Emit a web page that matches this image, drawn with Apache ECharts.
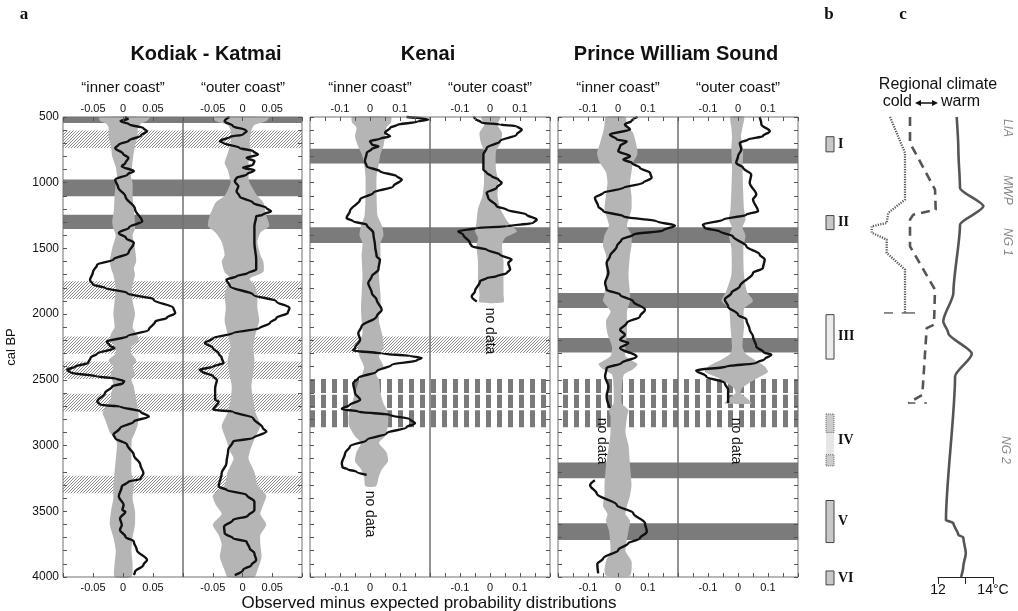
<!DOCTYPE html>
<html>
<head>
<meta charset="utf-8">
<script src="https://cdn.jsdelivr.net/npm/echarts@6/dist/echarts.min.js"></script>
<style>
  html, body { margin: 0; padding: 0; background: #fff; }
  #chart { width: 1018px; height: 611px; }
</style>
</head>
<body>
<div id="chart"></div>
<script>
// ---- time axis (cal BP) ----
const YEAR_MIN = 500;
const YEAR_MAX = 4000;

// ---- horizontal event bands [from, to] in cal BP ----
const kodiakDark  = [[500, 545], [976, 1103], [1243, 1352]];
const kodiakHatch = [[603, 735], [1750, 1885], [2170, 2302], [2360, 2494], [2606, 2741], [3230, 3362]];
const kenaiDark   = [[742, 854], [1339, 1458]];
const kenaiHatch  = [[2170, 2296]];
const dashedRows  = [[2494, 2600], [2613, 2715], [2732, 2860]];
const pwsDark     = [[742, 854], [1339, 1458], [1839, 1953], [2182, 2292], [3129, 3248], [3591, 3718]];

// ---- observed minus expected curves [cal BP, value] ----
const kodiakInnerLine = [[500,0.003],[515,0.008],[530,-0.004],[555,0.01],[585,0.034],[608,0.04],[640,0.03],[680,0.01],[709,-0.007],[735,-0.013],[780,0.0],[811,0.009],[850,0.004],[875,-0.002],[913,0.018],[935,0.008],[976,-0.013],[1037,-0.008],[1103,0.004],[1200,0.02],[1294,0.032],[1340,0.01],[1382,-0.007],[1420,0.005],[1458,0.018],[1534,0.009],[1585,-0.016],[1623,-0.043],[1680,-0.05],[1740,-0.055],[1775,-0.05],[1800,-0.03],[1839,0.007],[1890,0.051],[1953,0.084],[1991,0.087],[2029,0.073],[2055,0.054],[2119,0.043],[2170,0.007],[2208,-0.027],[2240,-0.022],[2258,-0.014],[2300,-0.043],[2332,-0.054],[2370,-0.058],[2400,-0.08],[2423,-0.093],[2444,-0.088],[2474,-0.043],[2490,-0.012],[2510,0.002],[2525,0.0],[2550,-0.018],[2600,-0.03],[2665,-0.043],[2690,-0.038],[2703,-0.005],[2741,0.029],[2779,0.043],[2817,0.018],[2867,-0.005],[2918,-0.016],[2943,-0.013],[2994,0.007],[3071,0.018],[3147,0.029],[3210,0.034],[3255,0.029],[3274,0.009],[3312,-0.002],[3388,-0.007],[3452,0.001],[3490,-0.001],[3503,0.004],[3553,-0.005],[3604,-0.002],[3642,-0.005],[3693,0.004],[3731,0.018],[3794,0.023],[3870,0.04],[3908,0.034],[3960,0.02],[3985,0.018]];
const kodiakOuterLine = [[500,-0.022],[532,-0.03],[570,-0.016],[600,0.005],[608,0.007],[633,0.001],[651,-0.021],[684,-0.038],[697,-0.032],[735,-0.005],[760,0.018],[786,0.026],[811,0.007],[836,0.02],[862,0.018],[887,0.001],[905,0.02],[938,0.007],[963,-0.01],[989,-0.013],[1027,-0.007],[1065,-0.01],[1103,-0.005],[1154,0.018],[1192,0.04],[1217,0.048],[1243,0.034],[1256,0.023],[1332,0.02],[1458,0.02],[1585,0.023],[1661,0.023],[1687,0.009],[1712,-0.01],[1738,-0.027],[1788,-0.021],[1852,0.018],[1903,0.057],[1953,0.079],[1991,0.076],[2029,0.057],[2068,0.046],[2106,0.029],[2144,-0.016],[2182,-0.049],[2220,-0.063],[2256,-0.05],[2300,-0.04],[2332,-0.035],[2372,-0.032],[2400,-0.05],[2423,-0.072],[2436,-0.068],[2474,-0.049],[2500,-0.043],[2563,-0.046],[2652,-0.046],[2665,-0.04],[2728,-0.049],[2741,-0.016],[2791,0.018],[2867,0.034],[2893,0.04],[2943,0.018],[2969,-0.016],[3033,-0.024],[3134,-0.027],[3210,-0.035],[3312,-0.04],[3337,-0.027],[3376,0.007],[3427,0.02],[3490,0.02],[3535,0.009],[3566,-0.016],[3617,-0.031],[3668,-0.03],[3706,-0.016],[3731,0.007],[3782,0.012],[3820,0.02],[3870,0.023],[3908,0.015],[3947,0.001],[3985,-0.013]];
const kenaiInnerLine = [[500,0.122],[519,0.194],[535,0.16],[560,0.09],[582,0.067],[620,0.05],[646,0.067],[666,0.033],[684,0.0],[709,0.006],[722,0.028],[745,0.005],[773,-0.011],[836,-0.017],[875,-0.011],[913,0.033],[951,0.089],[976,0.106],[1027,0.078],[1077,0.011],[1128,-0.033],[1217,-0.067],[1268,-0.078],[1294,-0.056],[1319,-0.011],[1382,0.011],[1484,0.017],[1560,0.022],[1585,0.033],[1661,0.028],[1712,0.006],[1763,-0.006],[1839,0.006],[1890,0.022],[1966,0.039],[2017,0.022],[2093,-0.028],[2144,-0.039],[2195,-0.033],[2258,-0.05],[2276,-0.056],[2300,0.04],[2317,0.133],[2334,0.172],[2352,0.156],[2385,0.072],[2436,0.022],[2486,-0.039],[2525,-0.056],[2600,-0.05],[2652,-0.033],[2690,-0.067],[2721,-0.094],[2741,-0.039],[2767,0.067],[2800,0.133],[2830,0.15],[2861,0.122],[2906,0.056],[2957,-0.011],[3007,-0.067],[3058,-0.083],[3134,-0.094],[3165,-0.092],[3180,-0.075],[3200,-0.045],[3223,-0.011]];
const kenaiOuterLine = [[500,-0.056],[510,-0.05],[544,-0.028],[557,0.033],[570,0.089],[595,0.106],[633,0.089],[684,0.033],[735,-0.011],[786,-0.022],[900,-0.022],[925,-0.011],[951,0.006],[976,0.028],[1001,0.039],[1039,0.022],[1077,-0.011],[1115,-0.006],[1179,0.022],[1205,0.056],[1243,0.122],[1281,0.156],[1306,0.144],[1332,0.056],[1344,-0.044],[1370,-0.106],[1395,-0.089],[1458,-0.067],[1484,-0.061],[1509,-0.011],[1547,0.033],[1585,0.072],[1610,0.061],[1661,0.067],[1687,0.056],[1712,0.022],[1725,-0.011],[1750,-0.033],[1826,-0.05],[1865,-0.061],[1903,-0.044]];
const pwsInnerLineA = [[500,0.065],[530,0.045],[557,0.023],[595,0.04],[633,-0.027],[671,-0.004],[684,0.029],[722,0.007],[760,0.001],[798,0.04],[824,0.018],[849,0.046],[887,0.073],[925,0.107],[963,0.112],[1001,0.084],[1039,0.018],[1077,-0.049],[1115,-0.077],[1179,-0.066],[1217,-0.049],[1256,0.018],[1294,0.129],[1326,0.19],[1362,0.151],[1395,0.051],[1433,0.012],[1484,-0.004],[1560,-0.027],[1610,-0.038],[1687,-0.032],[1763,-0.043],[1814,-0.038],[1852,0.007],[1903,0.051],[1966,0.09],[2017,0.073],[2068,0.029],[2119,0.007],[2157,0.023],[2195,0.007],[2220,0.034],[2258,0.007],[2322,0.062],[2372,0.012],[2410,-0.038],[2474,-0.043],[2550,-0.032],[2626,-0.038],[2715,-0.027]];
const pwsInnerLineB = [[3263,-0.077],[3301,-0.093],[3365,-0.071],[3452,-0.004],[3515,0.051],[3591,0.09],[3655,0.096],[3706,0.073],[3744,0.034],[3794,0.001],[3858,-0.049],[3901,-0.069],[3972,-0.066]];
const pwsOuterLine = [[500,0.072],[557,0.078],[608,0.106],[646,0.083],[671,0.033],[697,0.006],[748,0.011],[798,0.0],[849,-0.006],[887,0.017],[938,0.044],[1001,0.039],[1090,0.061],[1128,0.05],[1217,0.067],[1243,0.028],[1281,-0.05],[1319,-0.117],[1344,-0.111],[1370,-0.061],[1408,-0.017],[1484,0.028],[1547,0.072],[1585,0.089],[1649,0.083],[1687,0.05],[1788,0.006],[1839,-0.022],[1890,-0.044],[1941,-0.033],[2004,0.0],[2042,0.028],[2119,0.039],[2170,0.05],[2246,0.061],[2290,0.085],[2309,0.111],[2340,0.09],[2372,0.061],[2398,-0.039],[2429,-0.139],[2474,-0.106],[2525,-0.044],[2576,-0.033],[2677,-0.033]];

// ---- expected-range envelopes [cal BP, low, high] ----
const kodiakInnerEnv = [[500,-0.04,0.045],[530,-0.038,0.04],[550,-0.028,0.03],[580,-0.024,0.025],[650,-0.024,0.024],[720,-0.02,0.02],[800,-0.018,0.017],[880,-0.012,0.015],[950,-0.01,0.013],[1000,-0.012,0.016],[1100,-0.014,0.016],[1200,-0.015,0.018],[1300,-0.018,0.02],[1350,-0.016,0.02],[1400,-0.012,0.016],[1500,-0.018,0.02],[1600,-0.022,0.022],[1650,-0.02,0.018],[1700,-0.016,0.02],[1800,-0.012,0.015],[1900,-0.014,0.016],[2000,-0.016,0.02],[2100,-0.014,0.016],[2150,-0.02,0.022],[2200,-0.022,0.026],[2250,-0.012,0.014],[2300,-0.012,0.014],[2350,-0.024,0.022],[2400,-0.016,0.016],[2450,-0.02,0.02],[2500,-0.018,0.014],[2550,-0.016,0.018],[2600,-0.02,0.02],[2650,-0.02,0.022],[2700,-0.028,0.024],[2750,-0.034,0.026],[2800,-0.03,0.026],[2850,-0.026,0.024],[2900,-0.022,0.02],[2950,-0.012,0.015],[3000,-0.01,0.014],[3100,-0.012,0.014],[3200,-0.014,0.014],[3300,-0.016,0.018],[3400,-0.016,0.016],[3500,-0.02,0.02],[3600,-0.022,0.02],[3700,-0.016,0.016],[3800,-0.012,0.014],[3900,-0.014,0.016],[4000,-0.014,0.014]];
const kodiakOuterEnv = [[500,-0.05,0.045],[530,-0.045,0.04],[560,-0.025,0.02],[600,-0.02,0.015],[700,-0.02,0.012],[780,-0.025,0.015],[850,-0.03,0.01],[900,-0.025,0.012],[950,-0.022,0.01],[1000,-0.02,0.012],[1100,-0.03,0.025],[1150,-0.045,0.035],[1250,-0.055,0.04],[1330,-0.058,0.045],[1380,-0.045,0.03],[1450,-0.035,0.025],[1550,-0.03,0.03],[1600,-0.035,0.035],[1680,-0.03,0.035],[1730,-0.02,0.012],[1780,-0.025,0.02],[1850,-0.03,0.025],[1950,-0.028,0.025],[2050,-0.03,0.028],[2150,-0.025,0.022],[2250,-0.02,0.018],[2350,-0.025,0.02],[2450,-0.022,0.018],[2550,-0.018,0.015],[2650,-0.02,0.018],[2750,-0.025,0.022],[2850,-0.035,0.03],[2950,-0.028,0.02],[3050,-0.02,0.012],[3100,-0.015,0.01],[3200,-0.025,0.02],[3300,-0.03,0.025],[3380,-0.05,0.04],[3450,-0.045,0.035],[3520,-0.035,0.03],[3600,-0.05,0.04],[3680,-0.04,0.03],[3750,-0.035,0.03],[3850,-0.038,0.032],[3950,-0.03,0.025],[4000,-0.025,0.02]];
const kenaiInnerEnv = [[500,-0.06,0.07],[540,-0.06,0.07],[580,-0.045,0.055],[650,-0.05,0.05],[720,-0.04,0.045],[780,-0.028,0.035],[850,-0.02,0.03],[950,-0.015,0.022],[1100,-0.015,0.022],[1250,-0.018,0.025],[1330,-0.03,0.04],[1400,-0.035,0.045],[1460,-0.025,0.035],[1550,-0.028,0.035],[1700,-0.025,0.03],[1850,-0.028,0.035],[1950,-0.03,0.035],[2050,-0.028,0.03],[2150,-0.025,0.04],[2250,-0.04,0.045],[2320,-0.035,0.03],[2400,-0.02,0.045],[2450,-0.025,0.02],[2500,-0.035,0.03],[2600,-0.05,0.035],[2680,-0.06,0.045],[2750,-0.07,0.06],[2850,-0.07,0.06],[2930,-0.05,0.05],[2980,-0.03,0.03],[3050,-0.045,0.055],[3120,-0.05,0.06],[3180,-0.03,0.04],[3230,-0.02,0.03],[3310,-0.015,0.02]];
const kenaiOuterEnv = [[500,-0.03,0.035],[560,-0.02,0.025],[620,-0.035,0.04],[700,-0.03,0.035],[760,-0.02,0.02],[900,-0.02,0.02],[1000,-0.02,0.028],[1100,-0.025,0.025],[1200,-0.04,0.035],[1300,-0.045,0.06],[1370,-0.05,0.09],[1420,-0.04,0.05],[1480,-0.045,0.04],[1600,-0.04,0.045],[1750,-0.04,0.045],[1850,-0.035,0.045],[1910,-0.035,0.045]];
const pwsInnerEnv = [[500,-0.04,0.025],[560,-0.045,0.03],[620,-0.05,0.05],[700,-0.06,0.06],[780,-0.07,0.065],[850,-0.06,0.05],[920,-0.04,0.045],[1000,-0.035,0.04],[1100,-0.04,0.045],[1200,-0.045,0.045],[1280,-0.035,0.035],[1330,-0.03,0.03],[1400,-0.045,0.045],[1480,-0.05,0.045],[1550,-0.04,0.04],[1700,-0.04,0.035],[1850,-0.045,0.04],[1900,-0.05,0.04],[1980,-0.025,0.03],[2050,-0.04,0.03],[2150,-0.035,0.03],[2250,-0.02,0.025],[2320,-0.025,0.025],[2380,-0.065,0.065],[2420,-0.05,0.05],[2460,-0.02,0.02],[2550,-0.015,0.013],[2680,-0.015,0.013],[2730,-0.03,0.035],[2780,-0.025,0.03],[2900,-0.025,0.025],[3000,-0.03,0.035],[3150,-0.04,0.04],[3300,-0.045,0.045],[3380,-0.045,0.04],[3460,-0.05,0.03],[3520,-0.035,0.025],[3570,-0.04,0.04],[3650,-0.03,0.035],[3800,-0.025,0.025],[3880,-0.04,0.045],[3950,-0.045,0.045],[3990,-0.04,0.04]];
const pwsOuterEnv = [[500,-0.025,0.02],[580,-0.022,0.015],[650,-0.02,0.01],[750,-0.022,0.017],[900,-0.02,0.015],[1050,-0.022,0.017],[1200,-0.025,0.02],[1280,-0.03,0.025],[1340,-0.02,0.015],[1400,-0.03,0.025],[1500,-0.022,0.018],[1700,-0.022,0.02],[1830,-0.04,0.03],[1900,-0.055,0.05],[1960,-0.03,0.02],[2100,-0.025,0.02],[2250,-0.02,0.015],[2300,-0.025,0.025],[2340,-0.05,0.05],[2400,-0.1,0.09],[2440,-0.11,0.1],[2480,-0.07,0.07],[2520,-0.04,0.04],[2560,-0.015,0.015],[2600,-0.008,0.008],[2640,-0.03,0.03],[2680,-0.045,0.045]];

// ---- panel b: periods [label, from, to] ----
const periods = [['I', 650, 765], ['II', 1250, 1357], ['III', 2004, 2342], ['IV', 2760, 3155], ['V', 3418, 3738], ['VI', 3954, 4060]];
const periodIVEnds = [[2760, 2900], [3070, 3155]];

// ---- panel c: temperature [cal BP, °C] and regional climate index [cal BP, index] ----
const temperature = [[500,12.68],[747,12.74],[1040,12.8],[1180,13.65],[1320,12.8],[1837,12.56],[2055,12.19],[2144,12.37],[2301,13.23],[2474,12.62],[3566,12.29],[3591,12.56],[3680,12.74],[3698,12.92],[3819,13.01],[3921,12.92],[4000,12.84]];
const climateDotted = [[500,4.0],[773,5.5],[1128,5.5],[1230,3.83],[1306,3.67],[1332,2.17],[1380,2.17],[1433,3.67],[1534,3.67],[1661,5.5],[1991,5.5]];
const climateDottedCaps = [[[1991,3.4],[1991,4.3]], [[1991,5.17],[1991,6.5]]];
const climateDashed = [[500,6.0],[697,6.0],[1052,8.5],[1205,8.57],[1243,6.33],[1281,6.0],[1484,6.0],[1814,8.5],[2080,8.4],[2106,7.67],[2614,7.23],[2677,5.83]];
const climateDashedCap = [[2677,5.83],[2677,7.7]];

const FONT = "'Liberation Sans', Arial, Helvetica, sans-serif";
const SERIF = "'Liberation Serif', 'DejaVu Serif', 'Times New Roman', serif";

// ---- fill patterns ----
function hatchPattern() {
  const n = 3;
  const c = document.createElement('canvas');
  c.width = n; c.height = n;
  const ctx = c.getContext('2d');
  const img = ctx.createImageData(n, n);
  for (let y = 0; y < n; y++) {
    for (let x = 0; x < n; x++) {
      const on = (x + y) % n === n - 1;
      const v = on ? 140 : 255;
      const i = (y * n + x) * 4;
      img.data[i] = v; img.data[i + 1] = v; img.data[i + 2] = v; img.data[i + 3] = 255;
    }
  }
  ctx.putImageData(img, 0, 0);
  return { image: c, repeat: 'repeat' };
}
function dashPattern() {
  const c = document.createElement('canvas');
  c.width = 11; c.height = 4;
  const ctx = c.getContext('2d');
  ctx.fillStyle = '#ffffff';
  ctx.fillRect(0, 0, 11, 4);
  ctx.fillStyle = '#7a7a7a';
  ctx.fillRect(2, 0, 5, 4);
  return { image: c, repeat: 'repeat' };
}
const HATCH = hatchPattern();
const DASHES = dashPattern();
const DARK = '#7b7b7b';
const ENVELOPE = '#b5b5b5';

const grids = [], xAxes = [], yAxes = [], series = [];

function round3(v) { return Math.round(v * 1000) / 1000; }

function addColumn(cfg) {
  const gi = grids.length;
  grids.push({ left: cfg.left, top: 117, width: cfg.width, height: 460, show: true,
    borderColor: '#707070', borderWidth: 1, backgroundColor: 'transparent', z: 10 });
  const label = {
    fontSize: 11, color: '#111', fontFamily: FONT,
    formatter: v => { const r = round3(v); return cfg.labels.indexOf(r) >= 0 ? (r === 0 ? '0' : String(r)) : ''; }
  };
  const base = { gridIndex: gi, type: 'value', min: -cfg.range, max: cfg.range, interval: cfg.step, z: 10,
    splitLine: { show: false }, axisLine: { show: false, onZero: false },
    axisTick: { inside: true, length: 4, lineStyle: { color: '#555' } } };
  xAxes.push(Object.assign({}, base, { position: 'top', axisLabel: Object.assign({ margin: 3 }, label) }));
  xAxes.push(Object.assign({}, base, { position: 'bottom', axisLabel: Object.assign({ margin: 5 }, label) }));
  yAxes.push({ gridIndex: gi, type: 'value', inverse: true, min: YEAR_MIN, max: YEAR_MAX, interval: 100,
    position: cfg.ySide, z: 10, splitLine: { show: false }, axisLine: { show: false, onZero: false },
    axisTick: { inside: true, length: 4, lineStyle: { color: '#555' } },
    axisLabel: cfg.yLabels
      ? { show: true, fontSize: 12, color: '#111', fontFamily: FONT, margin: 4, formatter: v => (v % 500 === 0 ? String(v) : '') }
      : { show: false } });

  const xi = 2 * gi;
  const bandSeries = (bands, fill) => ({
    type: 'custom', xAxisIndex: xi, yAxisIndex: gi, z: 1, silent: true, data: bands,
    renderItem(params, api) {
      const cs = params.coordSys;
      const y0 = api.coord([0, api.value(0)])[1];
      const y1 = api.coord([0, api.value(1)])[1];
      return { type: 'rect', shape: { x: cs.x, y: y0, width: cs.width, height: y1 - y0 }, style: { fill } };
    }
  });
  if (cfg.dark.length) series.push(bandSeries(cfg.dark, DARK));
  if (cfg.hatch.length) series.push(bandSeries(cfg.hatch, HATCH));
  if (cfg.dash.length) series.push(bandSeries(cfg.dash, DASHES));

  const env = cfg.env;
  series.push({
    type: 'custom', xAxisIndex: xi, yAxisIndex: gi, z: 2, silent: true, data: [[0, YEAR_MIN]],
    renderItem(params, api) {
      const lo = env.map(e => api.coord([e[1], e[0]]));
      const hi = env.map(e => api.coord([e[2], e[0]])).reverse();
      return { type: 'polygon', shape: { points: lo.concat(hi), smooth: 0.2 }, style: { fill: ENVELOPE } };
    }
  });

  cfg.lines.forEach(line => {
    series.push({
      type: 'line', xAxisIndex: xi, yAxisIndex: gi, z: 3, silent: true, clip: false,
      data: line.map(p => [p[1], p[0]]), smooth: 0.35, smoothMonotone: 'y', symbol: 'none',
      lineStyle: { color: '#111', width: 2.4 }
    });
  });
}

addColumn({ left: 63, width: 120, range: 0.1, step: 0.05, labels: [-0.05, 0, 0.05], ySide: 'left', yLabels: true,
  lines: [kodiakInnerLine], env: kodiakInnerEnv, dark: kodiakDark, hatch: kodiakHatch, dash: [] });
addColumn({ left: 183, width: 119, range: 0.1, step: 0.05, labels: [-0.05, 0, 0.05], ySide: 'right',
  lines: [kodiakOuterLine], env: kodiakOuterEnv, dark: kodiakDark, hatch: kodiakHatch, dash: [] });
addColumn({ left: 310, width: 120, range: 0.2, step: 0.05, labels: [-0.1, 0, 0.1], ySide: 'left',
  lines: [kenaiInnerLine], env: kenaiInnerEnv, dark: kenaiDark, hatch: kenaiHatch, dash: dashedRows });
addColumn({ left: 430, width: 120, range: 0.2, step: 0.05, labels: [-0.1, 0, 0.1], ySide: 'right',
  lines: [kenaiOuterLine], env: kenaiOuterEnv, dark: kenaiDark, hatch: kenaiHatch, dash: dashedRows });
addColumn({ left: 558, width: 120, range: 0.2, step: 0.05, labels: [-0.1, 0, 0.1], ySide: 'left',
  lines: [pwsInnerLineA, pwsInnerLineB], env: pwsInnerEnv, dark: pwsDark, hatch: [], dash: dashedRows });
addColumn({ left: 678, width: 120, range: 0.2, step: 0.05, labels: [-0.1, 0, 0.1], ySide: 'right',
  lines: [pwsOuterLine], env: pwsOuterEnv, dark: pwsDark, hatch: [], dash: dashedRows });

// ---- panel b: period boxes ----
const gb = grids.length;
grids.push({ left: 826, top: 117, width: 8, height: 460 });
xAxes.push({ gridIndex: gb, type: 'value', min: 0, max: 1, show: false });
yAxes.push({ gridIndex: gb, type: 'value', inverse: true, min: YEAR_MIN, max: YEAR_MAX, show: false });
series.push({
  type: 'custom', xAxisIndex: xAxes.length - 1, yAxisIndex: gb, silent: true, z: 3,
  data: periods.map(p => [0, p[1], p[2]]),
  renderItem(params, api) {
    const p = periods[params.dataIndex];
    const a = api.coord([0, p[1]]), b = api.coord([1, p[2]]);
    const x = a[0], w = b[0] - a[0];
    const toY = v => api.coord([0, v])[1];
    const children = [];
    if (p[0] === 'IV') {
      children.push({ type: 'rect', shape: { x, y: a[1], width: w, height: b[1] - a[1] }, style: { fill: '#e6e6e6' } });
      periodIVEnds.forEach(r => {
        children.push({ type: 'rect', shape: { x, y: toY(r[0]), width: w, height: toY(r[1]) - toY(r[0]) },
          style: { fill: '#cbcbcb', stroke: '#666', lineWidth: 1, lineDash: [1, 1] } });
      });
    } else {
      children.push({ type: 'rect', shape: { x, y: a[1], width: w, height: b[1] - a[1] },
        style: { fill: p[0] === 'III' ? '#ececec' : '#c8c8c8', stroke: '#444', lineWidth: 1 } });
    }
    children.push({ type: 'text', x: b[0] + 4, y: (a[1] + b[1]) / 2,
      style: { text: p[0], font: 'bold 14px ' + SERIF, fill: '#111', align: 'left', verticalAlign: 'middle',
        textAlign: 'left', textVerticalAlign: 'middle' } });
    return { type: 'group', children };
  }
});

// ---- panel c: temperature ----
const gt = grids.length;
grids.push({ left: 938, top: 117, width: 55, height: 460 });
xAxes.push({ gridIndex: gt, type: 'value', min: 12, max: 14, interval: 1, position: 'bottom',
  splitLine: { show: false }, axisLine: { show: true, onZero: false, lineStyle: { color: '#222', width: 1 } },
  axisTick: { show: true, length: 7, lineStyle: { color: '#222' } },
  axisLabel: { fontSize: 14, color: '#111', fontFamily: FONT, margin: 6,
    formatter: v => (v === 12 ? '12' : v === 14 ? '14°C' : '') } });
yAxes.push({ gridIndex: gt, type: 'value', inverse: true, min: YEAR_MIN, max: YEAR_MAX, show: false });
series.push({ type: 'line', xAxisIndex: xAxes.length - 1, yAxisIndex: gt, silent: true, clip: false, z: 3,
  data: temperature.map(p => [p[1], p[0]]), smooth: 0.25, smoothMonotone: 'y', symbol: 'none',
  lineStyle: { color: '#555', width: 2.6 } });

// ---- panel c: regional climate index ----
const gc = grids.length;
grids.push({ left: 850, top: 117, width: 90, height: 460 });
xAxes.push({ gridIndex: gc, type: 'value', min: 0, max: 9, show: false });
yAxes.push({ gridIndex: gc, type: 'value', inverse: true, min: YEAR_MIN, max: YEAR_MAX, show: false });
const xc = xAxes.length - 1;
series.push({ type: 'line', xAxisIndex: xc, yAxisIndex: gc, silent: true, clip: false, z: 3,
  data: climateDotted.map(p => [p[1], p[0]]), symbol: 'none',
  lineStyle: { color: '#555', width: 2.3, type: [1.2, 1.3] } });
climateDottedCaps.forEach(seg => series.push({ type: 'line', xAxisIndex: xc, yAxisIndex: gc, silent: true, clip: false, z: 3,
  data: seg.map(p => [p[1], p[0]]), symbol: 'none', lineStyle: { color: '#444', width: 1.2 } }));
series.push({ type: 'line', xAxisIndex: xc, yAxisIndex: gc, silent: true, clip: false, z: 3,
  data: climateDashed.map(p => [p[1], p[0]]), symbol: 'none',
  lineStyle: { color: '#555', width: 2.6, type: [9, 6] } });
series.push({ type: 'line', xAxisIndex: xc, yAxisIndex: gc, silent: true, clip: false, z: 3,
  data: climateDashedCap.map(p => [p[1], p[0]]), symbol: 'none',
  lineStyle: { color: '#555', width: 1.5, type: [7, 9] } });

// ---- texts ----
function txt(text, x, y, font, extra) {
  return Object.assign({ type: 'text', x, y, z: 100, silent: true,
    style: Object.assign({ text, font, fill: '#111', align: 'center', verticalAlign: 'middle',
      textAlign: 'center', textVerticalAlign: 'middle' }, (extra && extra.style) || {}) },
    extra && extra.rotation !== undefined ? { rotation: extra.rotation } : {});
}
const UP = Math.PI / 2, DOWN = -Math.PI / 2;
const graphic = [
  txt('a', 24, 15, 'bold 17px ' + SERIF),
  txt('b', 829, 15, 'bold 17px ' + SERIF),
  txt('c', 903, 15, 'bold 17px ' + SERIF),
  txt('Kodiak - Katmai', 206, 54, 'bold 20px ' + FONT),
  txt('Kenai', 428, 54, 'bold 20px ' + FONT),
  txt('Prince William Sound', 676, 54, 'bold 20px ' + FONT),
  txt('\u201cinner coast\u201d', 123, 88, '15px ' + FONT),
  txt('\u201couter coast\u201d', 243, 88, '15px ' + FONT),
  txt('\u201cinner coast\u201d', 370, 88, '15px ' + FONT),
  txt('\u201couter coast\u201d', 490, 88, '15px ' + FONT),
  txt('\u201cinner coast\u201d', 618, 88, '15px ' + FONT),
  txt('\u201couter coast\u201d', 738, 88, '15px ' + FONT),
  txt('cal BP', 11, 347, '13px ' + FONT, { rotation: UP }),
  txt('Observed minus expected probability distributions', 429, 603, '17px ' + FONT),
  txt('no data', 370, 514, '14px ' + FONT, { rotation: DOWN }),
  txt('no data', 490, 331, '14px ' + FONT, { rotation: DOWN }),
  txt('no data', 602, 441, '14px ' + FONT, { rotation: DOWN }),
  txt('no data', 736, 441, '14px ' + FONT, { rotation: DOWN }),
  txt('Regional climate', 938, 85, '16px ' + FONT),
  txt('cold', 912, 102, '16px ' + FONT, { style: { align: 'right', textAlign: 'right' } }),
  txt('warm', 941, 102, '16px ' + FONT, { style: { align: 'left', textAlign: 'left' } }),
  { type: 'line', z: 100, silent: true, shape: { x1: 919, y1: 103, x2: 934, y2: 103 }, style: { stroke: '#111', lineWidth: 1.5 } },
  { type: 'polygon', z: 100, silent: true, shape: { points: [[915, 103], [921, 100], [921, 106]] }, style: { fill: '#111' } },
  { type: 'polygon', z: 100, silent: true, shape: { points: [[938, 103], [932, 100], [932, 106]] }, style: { fill: '#111' } },
  txt('LIA', 1007, 128, 'italic 12px ' + FONT, { rotation: DOWN, style: { fill: '#888' } }),
  txt('MWP', 1007, 190, 'italic 12px ' + FONT, { rotation: DOWN, style: { fill: '#888' } }),
  txt('NG 1', 1007, 242, 'italic 12px ' + FONT, { rotation: DOWN, style: { fill: '#888' } }),
  txt('NG 2', 1005, 450, 'italic 12px ' + FONT, { rotation: DOWN, style: { fill: '#888' } })
];

const chart = echarts.init(document.getElementById('chart'), null, { renderer: 'canvas' });
chart.setOption({
  animation: false,
  backgroundColor: '#fff',
  grid: grids,
  xAxis: xAxes,
  yAxis: yAxes,
  series,
  graphic
});
</script>
</body>
</html>
